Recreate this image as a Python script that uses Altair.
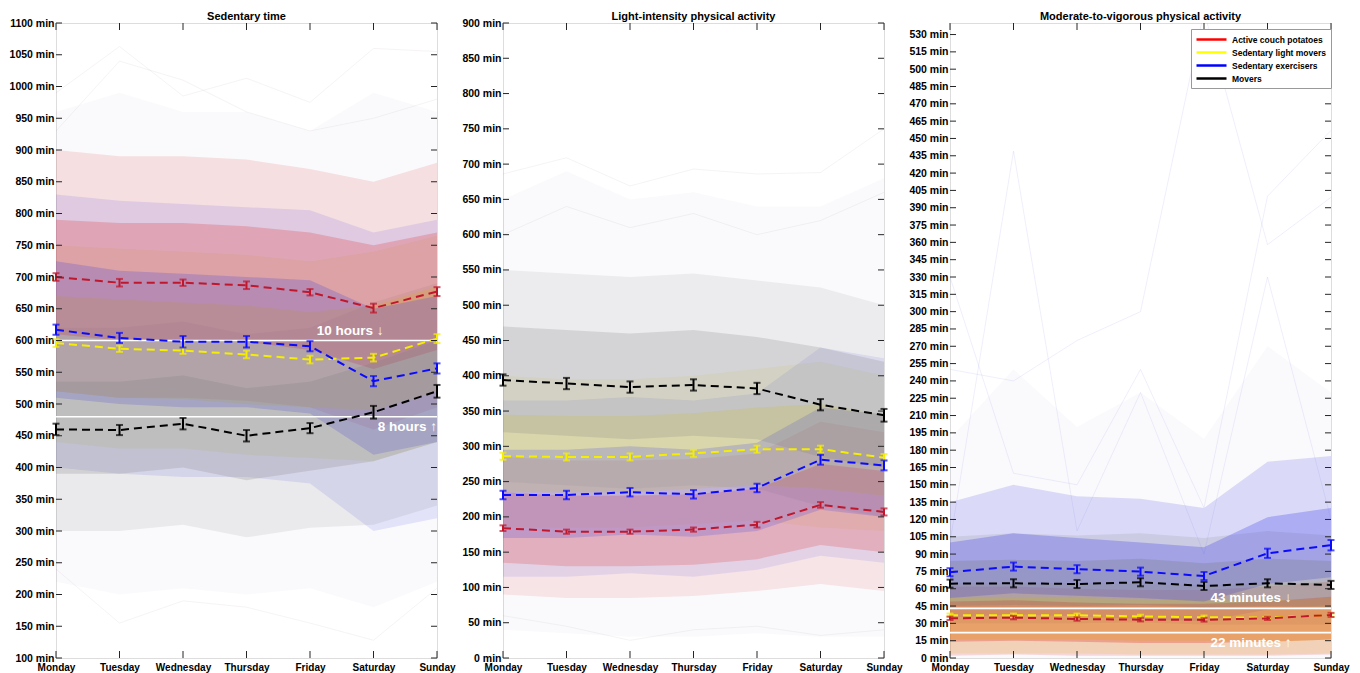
import altair as alt
import pandas as pd

FONT = "Liberation Sans"
W, H = 381, 635
GAP = 66

DAYS = ["Monday", "Tuesday", "Wednesday", "Thursday", "Friday", "Saturday", "Sunday"]
CLUSTERS = ["Active couch potatoes", "Sedentary light movers", "Sedentary exercisers", "Movers"]
LEGEND_COLORS = ["#ff0000", "#ffff00", "#0000ff", "#000000"]
MEAN_COLORS = ["#c0172c", "#f5ee00", "#0a0aff", "#000000"]
BAND_COLORS = ["#e02424", "#e0d000", "#3a3ae8", "#7a7a7a"]
DRAW_ORDER = [1, 0, 2, 3]

# ---------------- Sedentary time ----------------
ST_RED_MEAN = [700, 691, 691, 687, 676, 651, 677]
ST_RED_ERR = [6, 6, 5, 6, 5, 7, 7]
ST_RED_OLO = [520, 510, 510, 505, 495, 460, 495]
ST_RED_ILO = [610, 600, 600, 598, 585, 555, 585]
ST_RED_IHI = [790, 785, 785, 780, 770, 750, 770]
ST_RED_OHI = [900, 890, 890, 885, 870, 850, 880]

ST_YEL_MEAN = [596, 587, 584, 578, 570, 573, 603]
ST_YEL_ERR = [6, 5, 5, 6, 6, 6, 7]
ST_YEL_OLO = [440, 430, 430, 420, 415, 410, 440]
ST_YEL_ILO = [520, 510, 508, 500, 495, 490, 520]
ST_YEL_IHI = [670, 665, 660, 655, 645, 655, 685]
ST_YEL_OHI = [750, 745, 740, 735, 725, 740, 765]

ST_BLU_MEAN = [617, 604, 598, 598, 591, 536, 556]
ST_BLU_ERR = [8, 8, 9, 9, 8, 8, 8]
ST_BLU_OLO = [400, 390, 385, 385, 375, 300, 320]
ST_BLU_ILO = [510, 500, 495, 495, 485, 420, 440]
ST_BLU_IHI = [725, 710, 705, 700, 695, 650, 670]
ST_BLU_OHI = [830, 820, 815, 810, 805, 770, 790]

ST_BLK_MEAN = [460, 459, 469, 450, 462, 487, 520]
ST_BLK_ERR = [9, 8, 9, 9, 8, 10, 10]
ST_BLK_OLO = [300, 300, 310, 290, 305, 310, 340]
ST_BLK_ILO = [390, 390, 400, 380, 395, 410, 440]
ST_BLK_IHI = [535, 535, 545, 525, 535, 565, 600]
ST_BLK_OHI = [620, 620, 630, 610, 620, 660, 690]

ST_ENV_LO = [220, 200, 210, 200, 210, 180, 220]
ST_ENV_HI = [960, 990, 960, 960, 930, 990, 960]
ST_TRACE_1 = [990, 1063, 985, 1013, 975, 1060, 1055]
ST_TRACE_2 = [930, 1040, 1010, 960, 930, 950, 980]
ST_TRACE_3 = [240, 155, 190, 180, 155, 128, 210]
ST_TICKS = [100, 150, 200, 250, 300, 350, 400, 450, 500, 550, 600, 650, 700, 750,
            800, 850, 900, 950, 1000, 1050, 1100]
ST_REFS = [600, 480]
ST_REF_TEXT = ["10 hours \u2193", "8 hours \u2191"]

# ---------------- Light-intensity PA ----------------
LP_RED_MEAN = [184, 179, 179, 182, 189, 217, 207]
LP_RED_ERR = [4, 3, 3, 3, 4, 4, 5]
LP_RED_OLO = [90, 85, 85, 88, 95, 105, 95]
LP_RED_ILO = [135, 130, 130, 132, 140, 160, 150]
LP_RED_IHI = [235, 230, 230, 232, 240, 275, 265]
LP_RED_OHI = [285, 280, 280, 282, 290, 335, 320]

LP_YEL_MEAN = [286, 285, 285, 290, 296, 296, 284]
LP_YEL_ERR = [5, 5, 5, 5, 5, 5, 5]
LP_YEL_OLO = [185, 185, 185, 190, 195, 185, 180]
LP_YEL_ILO = [235, 235, 235, 240, 245, 240, 230]
LP_YEL_IHI = [345, 343, 343, 347, 355, 360, 345]
LP_YEL_OHI = [400, 395, 395, 400, 410, 420, 400]

LP_BLU_MEAN = [231, 231, 235, 232, 241, 281, 273]
LP_BLU_ERR = [6, 6, 6, 6, 6, 7, 7]
LP_BLU_OLO = [115, 115, 120, 115, 125, 145, 135]
LP_BLU_ILO = [170, 170, 175, 172, 180, 210, 200]
LP_BLU_IHI = [295, 295, 300, 295, 305, 355, 345]
LP_BLU_OHI = [365, 365, 370, 365, 375, 440, 425]

LP_BLK_MEAN = [394, 389, 384, 387, 382, 359, 344]
LP_BLK_ERR = [8, 8, 8, 8, 8, 8, 9]
LP_BLK_OLO = [250, 245, 240, 245, 240, 215, 200]
LP_BLK_ILO = [320, 315, 310, 315, 310, 285, 270]
LP_BLK_IHI = [470, 465, 460, 465, 455, 440, 420]
LP_BLK_OHI = [550, 545, 540, 545, 535, 525, 500]

LP_ENV_LO = [40, 35, 30, 30, 35, 30, 30]
LP_ENV_HI = [650, 690, 650, 660, 640, 640, 680]
LP_TRACE_1 = [686, 709, 669, 693, 686, 688, 750]
LP_TRACE_2 = [600, 640, 610, 630, 600, 620, 660]
LP_TRACE_3 = [60, 45, 25, 40, 45, 32, 40]
LP_TICKS = [0, 50, 100, 150, 200, 250, 300, 350, 400, 450, 500, 550, 600, 650,
            700, 750, 800, 850, 900]

# ---------------- Moderate-to-vigorous PA ----------------
MV_RED_MEAN = [34.4, 35.0, 33.8, 33.2, 33.0, 34.4, 37.3]
MV_RED_ERR = [1.5, 1.5, 1.5, 1.5, 1.5, 1.5, 1.8]
MV_RED_OLO = [2, 3, 2, 2, 2, 2, 3]
MV_RED_ILO = [14, 15, 14, 13, 13, 14, 16]
MV_RED_IHI = [49, 50, 48, 47, 47, 49, 53]
MV_RED_OHI = [62, 62, 60, 59, 59, 62, 66]

MV_YEL_MEAN = [37.0, 37.0, 37.0, 36.0, 35.3, 35.0, 37.0]
MV_YEL_ERR = [1.5, 1.5, 1.5, 1.5, 1.5, 1.5, 1.5]
MV_YEL_OLO = [4, 4, 4, 3, 3, 3, 4]
MV_YEL_ILO = [16, 16, 16, 15, 15, 14, 16]
MV_YEL_IHI = [52, 52, 52, 51, 50, 50, 52]
MV_YEL_OHI = [65, 65, 65, 64, 63, 64, 66]

MV_BLU_MEAN = [74.3, 79.2, 76.9, 74.8, 71.0, 90.7, 97.7]
MV_BLU_ERR = [3.5, 3.5, 3.5, 3.5, 3.5, 4.0, 4.5]
MV_BLU_OLO = [35, 38, 36, 34, 32, 42, 46]
MV_BLU_ILO = [52, 56, 54, 52, 49, 64, 70]
MV_BLU_IHI = [100, 108, 104, 100, 96, 122, 130]
MV_BLU_OHI = [135, 150, 140, 138, 130, 170, 175]

MV_BLK_MEAN = [64.4, 64.7, 64.1, 65.6, 62.4, 64.7, 63.3]
MV_BLK_ERR = [3.5, 3.5, 3.5, 3.5, 3.5, 3.5, 3.5]
MV_BLK_OLO = [30, 30, 30, 31, 29, 29, 29]
MV_BLK_ILO = [45, 46, 45, 46, 44, 45, 44]
MV_BLK_IHI = [84, 85, 84, 86, 82, 86, 84]
MV_BLK_OHI = [105, 108, 106, 108, 104, 110, 106]

MV_ENV_LO = [0, 0, 0, 0, 0, 0, 0]
MV_ENV_HI = [190, 250, 200, 230, 190, 270, 230]
MV_TRACE_1 = [100, 439, 110, 230, 90, 330, 120]
MV_TRACE_2 = [250, 240, 275, 300, 560, 358, 399]
MV_TRACE_3 = [330, 160, 150, 250, 130, 400, 457]
MV_TICK_POS = [0, 15, 30, 45, 60, 75, 90, 105, 120, 135, 150, 165, 180, 195, 210,
               225, 240, 255, 270, 285, 300, 315, 330, 345, 360, 375, 390, 405, 420,
               435, 450, 465, 480, 495, 510, 525, 540]
MV_TICK_LABELS = [0, 15, 30, 45, 60, 75, 90, 105, 120, 135, 150, 165, 180, 195, 210,
                  225, 240, 255, 270, 285, 300, 315, 330, 345, 360, 375, 390, 405, 420,
                  435, 450, 465, 470, 485, 500, 515, 530]
MV_REFS = [43, 22]
MV_REF_TEXT = ["43 minutes \u2193", "22 minutes \u2191"]


def xdef():
    return alt.X(
        "day:N", sort=DAYS, title=None,
        scale=alt.Scale(type="point", domain=DAYS, padding=0),
        axis=alt.Axis(labelAngle=0, labelFont=FONT, labelFontSize=10, labelFontWeight="bold",
                      labelColor="#000", ticks=False, domain=False, labelPadding=4,
                      labelOverlap=False),
    )


def make_ydef(domain, ticks, label_expr):
    def ydef(field):
        return alt.Y(
            f"{field}:Q", title=None,
            scale=alt.Scale(domain=domain, nice=False, zero=False),
            axis=alt.Axis(values=ticks, labelExpr=label_expr, labelFont=FONT, labelFontSize=10.5,
                          labelFontWeight="bold", labelColor="#000", ticks=False, domain=False,
                          grid=False, labelPadding=2, labelOverlap=False),
        )
    return ydef


def panel(title, title_dy, means, errs, bands, env_lo, env_hi, traces, trace_color, domain,
          ticks, label_expr, opac, refs=None, ref_text=None, upper_pos=None, lower_pos=None,
          legend=False):
    ydef = make_ydef(domain, ticks, label_expr)
    rows = []
    for ci in DRAW_ORDER:
        m, e = means[ci], errs[ci]
        olo, ilo, ihi, ohi = bands[ci]
        for di, d in enumerate(DAYS):
            rows.append(dict(day=d, cluster=CLUSTERS[ci], mean=m[di], lo=m[di] - e[di],
                             hi=m[di] + e[di], olo=olo[di], ilo=ilo[di], ihi=ihi[di],
                             ohi=ohi[di], mcol=MEAN_COLORS[ci], bcol=BAND_COLORS[ci], k=ci))
    df = pd.DataFrame(rows)
    env = pd.DataFrame({"day": DAYS, "lo": env_lo, "hi": env_hi})
    tr = pd.DataFrame([dict(day=d, tid=i, v=t[di]) for i, t in enumerate(traces)
                       for di, d in enumerate(DAYS)])

    layers = []
    layers.append(alt.Chart(env).mark_area(color="#a0a0c0", opacity=0.05).encode(
        x=xdef(), y=ydef("lo"), y2="hi"))
    layers.append(alt.Chart(df).mark_area(opacity=opac[0]).encode(
        x=xdef(), y=ydef("olo"), y2="ohi", fill=alt.Fill("bcol:N", scale=None),
        detail="cluster:N"))
    layers.append(alt.Chart(df).mark_area(opacity=opac[1]).encode(
        x=xdef(), y=ydef("ilo"), y2="ihi", fill=alt.Fill("bcol:N", scale=None),
        detail="cluster:N"))
    layers.append(alt.Chart(tr).mark_line(color=trace_color, opacity=0.14, strokeWidth=0.8,
                                          clip=True).encode(
        x=xdef(), y=ydef("v"), detail="tid:N"))

    if refs:
        refdf = pd.DataFrame({"v": refs, "label": ref_text,
                              "day": [upper_pos[0], lower_pos[0]]})
        layers.append(alt.Chart(refdf).mark_rule(color="white", strokeWidth=1.6).encode(
            y=ydef("v")))
        layers.append(alt.Chart(refdf.iloc[[0]]).mark_text(
            color="white", font=FONT, fontSize=13.5, fontWeight="bold", align="right",
            baseline="alphabetic", dx=upper_pos[1], dy=-6).encode(
            x=xdef(), y=ydef("v"), text="label:N"))
        layers.append(alt.Chart(refdf.iloc[[1]]).mark_text(
            color="white", font=FONT, fontSize=13.5, fontWeight="bold", align="right",
            baseline="top", dx=lower_pos[1], dy=3).encode(
            x=xdef(), y=ydef("v"), text="label:N"))

    for ci in DRAW_ORDER:
        sub = df[df.k == ci]
        layers.append(alt.Chart(sub).mark_line(strokeDash=[8, 5], strokeWidth=2).encode(
            x=xdef(), y=ydef("mean"), stroke=alt.Stroke("mcol:N", scale=None)))
        layers.append(alt.Chart(sub).mark_rule(strokeWidth=2).encode(
            x=xdef(), y=ydef("lo"), y2="hi", stroke=alt.Stroke("mcol:N", scale=None)))
        for f in ["lo", "hi"]:
            layers.append(alt.Chart(sub).mark_tick(thickness=2, size=7).encode(
                x=xdef(), y=ydef(f), fill=alt.Fill("mcol:N", scale=None)))

    tdf = pd.DataFrame({"v": ticks})
    ddf = pd.DataFrame({"day": DAYS})
    layers.append(alt.Chart(tdf).mark_rule(color="#262626").encode(
        y=ydef("v"), x=alt.value(0), x2=alt.value(6)))
    layers.append(alt.Chart(tdf).mark_rule(color="#262626").encode(
        y=ydef("v"), x=alt.value(W - 6), x2=alt.value(W)))
    layers.append(alt.Chart(ddf).mark_rule(color="#262626").encode(
        x=xdef(), y=alt.value(H - 7), y2=alt.value(H)))
    layers.append(alt.Chart(ddf).mark_rule(color="#262626").encode(
        x=xdef(), y=alt.value(0), y2=alt.value(7)))

    if legend:
        layers.append(alt.Chart(df).mark_line(opacity=0).encode(
            x=xdef(), y=ydef("mean"),
            color=alt.Color("cluster:N",
                            scale=alt.Scale(domain=CLUSTERS, range=LEGEND_COLORS),
                            legend=alt.Legend(title=None, orient="none",
                                              legendX=2 * (W + GAP) + 241, legendY=6,
                                              symbolType="M-1,0H5", symbolSize=100,
                                              symbolStrokeWidth=2.5, symbolOpacity=1,
                                              symbolFillColor="transparent",
                                              labelFont=FONT, labelFontSize=8.5,
                                              labelFontWeight="bold", labelColor="#000",
                                              fillColor="white", strokeColor="#999999",
                                              padding=4, rowPadding=1, labelOffset=24,
                                              labelLimit=220))))

    return alt.layer(*layers).properties(
        width=W, height=H,
        title=alt.TitleParams(title, font=FONT, fontSize=11, fontWeight="bold", color="#000",
                              offset=-4, dy=title_dy))


st = panel(
    "Sedentary time", 0,
    [ST_RED_MEAN, ST_YEL_MEAN, ST_BLU_MEAN, ST_BLK_MEAN],
    [ST_RED_ERR, ST_YEL_ERR, ST_BLU_ERR, ST_BLK_ERR],
    [(ST_RED_OLO, ST_RED_ILO, ST_RED_IHI, ST_RED_OHI),
     (ST_YEL_OLO, ST_YEL_ILO, ST_YEL_IHI, ST_YEL_OHI),
     (ST_BLU_OLO, ST_BLU_ILO, ST_BLU_IHI, ST_BLU_OHI),
     (ST_BLK_OLO, ST_BLK_ILO, ST_BLK_IHI, ST_BLK_OHI)],
    ST_ENV_LO, ST_ENV_HI, [ST_TRACE_1, ST_TRACE_2, ST_TRACE_3], "#b090a8",
    [100, 1100], ST_TICKS, "datum.value + ' min'", (0.12, 0.22),
    ST_REFS, ST_REF_TEXT, ("Saturday", 10), ("Sunday", 0))

lp = panel(
    "Light-intensity physical activity", 0,
    [LP_RED_MEAN, LP_YEL_MEAN, LP_BLU_MEAN, LP_BLK_MEAN],
    [LP_RED_ERR, LP_YEL_ERR, LP_BLU_ERR, LP_BLK_ERR],
    [(LP_RED_OLO, LP_RED_ILO, LP_RED_IHI, LP_RED_OHI),
     (LP_YEL_OLO, LP_YEL_ILO, LP_YEL_IHI, LP_YEL_OHI),
     (LP_BLU_OLO, LP_BLU_ILO, LP_BLU_IHI, LP_BLU_OHI),
     (LP_BLK_OLO, LP_BLK_ILO, LP_BLK_IHI, LP_BLK_OHI)],
    LP_ENV_LO, LP_ENV_HI, [LP_TRACE_1, LP_TRACE_2, LP_TRACE_3], "#9a9aa8",
    [0, 900], LP_TICKS, "datum.value + ' min'", (0.10, 0.20))

mv_expr = ("[" + ",".join(f"'{v} min'" for v in MV_TICK_LABELS) + "][indexof(["
           + ",".join(str(v) for v in MV_TICK_POS) + "], datum.value)]")
mv = panel(
    "Moderate-to-vigorous physical activity", -5,
    [MV_RED_MEAN, MV_YEL_MEAN, MV_BLU_MEAN, MV_BLK_MEAN],
    [MV_RED_ERR, MV_YEL_ERR, MV_BLU_ERR, MV_BLK_ERR],
    [(MV_RED_OLO, MV_RED_ILO, MV_RED_IHI, MV_RED_OHI),
     (MV_YEL_OLO, MV_YEL_ILO, MV_YEL_IHI, MV_YEL_OHI),
     (MV_BLU_OLO, MV_BLU_ILO, MV_BLU_IHI, MV_BLU_OHI),
     (MV_BLK_OLO, MV_BLK_ILO, MV_BLK_IHI, MV_BLK_OHI)],
    MV_ENV_LO, MV_ENV_HI, [MV_TRACE_1, MV_TRACE_2, MV_TRACE_3], "#6a6ae0",
    [0, 550], MV_TICK_POS, mv_expr, (0.16, 0.28),
    MV_REFS, MV_REF_TEXT, ("Saturday", 24), ("Saturday", 24), legend=True)

chart = alt.hconcat(st, lp, mv, spacing=GAP, bounds="flush").properties(
    padding={"left": 0, "top": 2, "right": 0, "bottom": 0}).configure_view(
    stroke="#262626", strokeWidth=1).configure(background="white")

chart.save("out.html", embed_options={"renderer": "svg", "actions": False})
